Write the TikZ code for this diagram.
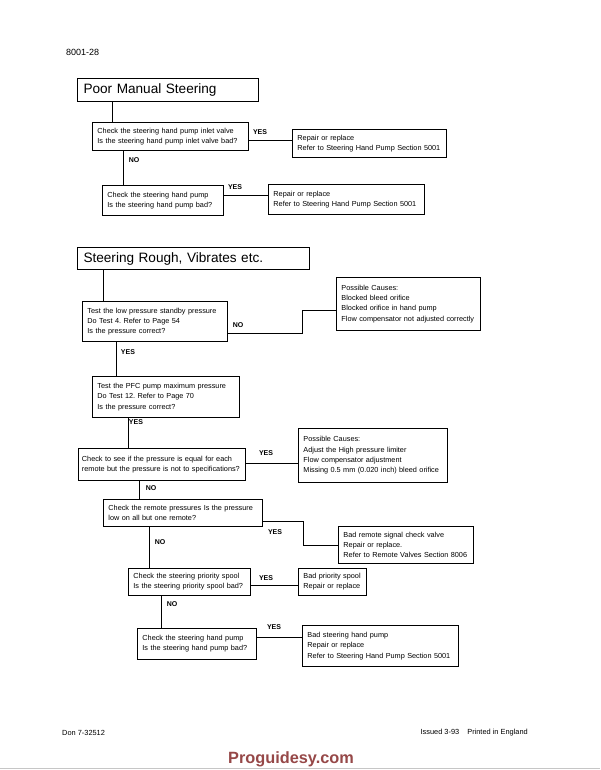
\documentclass[tikz,border=0pt]{standalone}
\usepackage{fontspec}
\setmainfont{Liberation Sans}
\frenchspacing
\definecolor{wmark}{RGB}{150,72,72}
\tikzset{
  box/.style={draw, line width=0.9pt, anchor=north west, inner xsep=5pt, inner ysep=0pt,
    align=left, font=\fontsize{7.3}{10.3}\selectfont},
  titlebox/.style={draw, line width=1pt, anchor=north west, inner xsep=6pt, inner ysep=0pt,
    align=left, font=\fontsize{13.6}{15}\selectfont},
  lbl/.style={font=\bfseries\fontsize{7}{8}\selectfont, inner sep=0pt},
  conn/.style={line width=0.9pt},
  foot/.style={font=\fontsize{7.4}{9}\selectfont, inner sep=0pt},
}
\begin{document}
\begin{tikzpicture}[x=1pt,y=-1pt]
\useasboundingbox (0,0) rectangle (600,770);
\fill[white] (0,0) rectangle (600,770);

\node[font=\fontsize{9}{10}\selectfont, anchor=west, inner sep=0pt] (pg) at (66,52) {8001-28};

% ---------- Poor Manual Steering ----------
\node[titlebox, minimum width=181pt, text width=169pt, minimum height=23pt] (t1) at (77,78) {Poor Manual Steering};
\node[box, minimum width=156pt, text width=146pt, minimum height=28pt] (q1) at (92,122)
  {Check the steering hand pump inlet valve\\Is the steering hand pump inlet valve bad?};
\node[box, minimum width=154pt, text width=144pt, minimum height=28pt] (r1) at (292,129)
  {Repair or replace\\Refer to Steering Hand Pump Section 5001};
\node[box, minimum width=121pt, text width=111pt, minimum height=30pt] (q2) at (102,185)
  {Check the steering hand pump\\Is the steering hand pump bad?};
\node[box, minimum width=156pt, text width=146pt, minimum height=30pt] (r2) at (268,184)
  {Repair or replace\\Refer to Steering Hand Pump Section 5001};

\coordinate (x1) at (112,0);
\coordinate (x2) at (123,0);
\coordinate (y1) at (0,140);
\coordinate (y2) at (0,195);
\draw[conn] (x1 |- t1.south) -- (x1 |- q1.north);
\draw[conn] (q1.east |- y1) -- (r1.west |- y1);
\draw[conn] (x2 |- q1.south) -- (x2 |- q2.north);
\draw[conn] (q2.east |- y2) -- (r2.west |- y2);
\node[lbl] (l1) at (260,132) {YES};
\node[lbl] (l2) at (134,160) {NO};
\node[lbl] (l3) at (235,187) {YES};

% ---------- Steering Rough, Vibrates etc. ----------
\node[titlebox, minimum width=232pt, text width=220pt, minimum height=22pt] (t2) at (77,247) {Steering Rough, Vibrates etc.};
\node[box, minimum width=145pt, text width=135pt, minimum height=40pt] (q3) at (82,301)
  {Test the low pressure standby pressure\\Do Test 4. Refer to Page 54\\Is the pressure correct?};
\node[box, minimum width=144pt, text width=134pt, minimum height=53pt] (c1) at (336,277)
  {Possible Causes:\\Blocked bleed orifice\\Blocked orifice in hand pump\\Flow compensator not adjusted correctly};
\node[box, minimum width=147pt, text width=137pt, minimum height=41pt] (q4) at (92,376)
  {Test the PFC pump maximum pressure\\Do Test 12. Refer to Page 70\\Is the pressure correct?};
\node[box, inner xsep=3.5pt, minimum width=167pt, text width=160pt, minimum height=32pt] (q5) at (78,448)
  {Check to see if the pressure is equal for each\\remote but the pressure is not to specifications?};
\node[box, minimum width=149pt, text width=139pt, minimum height=54pt] (c2) at (298,428)
  {Possible Causes:\\Adjust the High pressure limiter\\Flow compensator adjustment\\Missing 0.5 mm (0.020 inch) bleed orifice};
\node[box, minimum width=159pt, text width=149pt, minimum height=27pt] (q6) at (103,499)
  {Check the remote pressures Is the pressure\\low on all but one remote?};
\node[box, minimum width=135pt, text width=125pt, minimum height=37pt] (c3) at (338,526)
  {Bad remote signal check valve\\Repair or replace.\\Refer to Remote Valves Section 8006};
\node[box, minimum width=122pt, text width=112pt, minimum height=27pt] (q7) at (128,568)
  {Check the steering priority spool\\Is the steering priority spool bad?};
\node[box, minimum width=68pt, text width=58pt, minimum height=27pt] (c4) at (298,568)
  {Bad priority spool\\Repair or replace};
\node[box, minimum width=119pt, text width=109pt, minimum height=31pt] (q8) at (137,628)
  {Check the steering hand pump\\Is the steering hand pump bad?};
\node[box, minimum width=156pt, text width=146pt, minimum height=41pt] (c5) at (302,625)
  {Bad steering hand pump\\Repair or replace\\Refer to Steering Hand Pump Section 5001};

\coordinate (x3) at (103,0);
\coordinate (x4) at (116,0);
\coordinate (x5) at (128,0);
\coordinate (x6) at (139,0);
\coordinate (x7) at (149,0);
\coordinate (x8) at (161,0);
\coordinate (k1a) at (302,333);
\coordinate (k1b) at (302,310);
\coordinate (k2a) at (303,521);
\coordinate (k2b) at (303,545);
\coordinate (y3) at (0,463);
\coordinate (y4) at (0,585);
\coordinate (y5) at (0,637);

\draw[conn] (x3 |- t2.south) -- (x3 |- q3.north);
\draw[conn] (q3.east |- k1a) -- (k1a) -- (k1b) -- (c1.west |- k1b);
\draw[conn] (x4 |- q3.south) -- (x4 |- q4.north);
\draw[conn] (x5 |- q4.south) -- (x5 |- q5.north);
\draw[conn] (q5.east |- y3) -- (c2.west |- y3);
\draw[conn] (x6 |- q5.south) -- (x6 |- q6.north);
\draw[conn] (q6.east |- k2a) -- (k2a) -- (k2b) -- (c3.west |- k2b);
\draw[conn] (x7 |- q6.south) -- (x7 |- q7.north);
\draw[conn] (q7.east |- y4) -- (c4.west |- y4);
\draw[conn] (x8 |- q7.south) -- (x8 |- q8.north);
\draw[conn] (q8.east |- y5) -- (c5.west |- y5);

\node[lbl] (l4) at (238,325) {NO};
\node[lbl] (l5) at (128,352) {YES};
\node[lbl] (l6) at (136,422) {YES};
\node[lbl] (l7) at (266,453) {YES};
\node[lbl] (l8) at (151,488) {NO};
\node[lbl] (l9) at (275,532) {YES};
\node[lbl] (l10) at (160,542) {NO};
\node[lbl] (l11) at (266,578) {YES};
\node[lbl] (l12) at (172,604) {NO};
\node[lbl] (l13) at (274,627) {YES};

% ---------- footer ----------
\node[foot, anchor=west] (f1) at (62,733) {Don 7-32512};
\node[foot, anchor=east] (f2) at (528,733) {Issued 3-93\hspace{6pt} Printed in England};
\node[font=\bfseries\fontsize{16.3}{18}\selectfont, text=wmark, inner sep=0pt] (wm) at (291,759) {Proguidesy.com};
\draw[gray!45, line width=1.2pt] (0,768.5) -- (600,768.5);
\end{tikzpicture}
\end{document}
